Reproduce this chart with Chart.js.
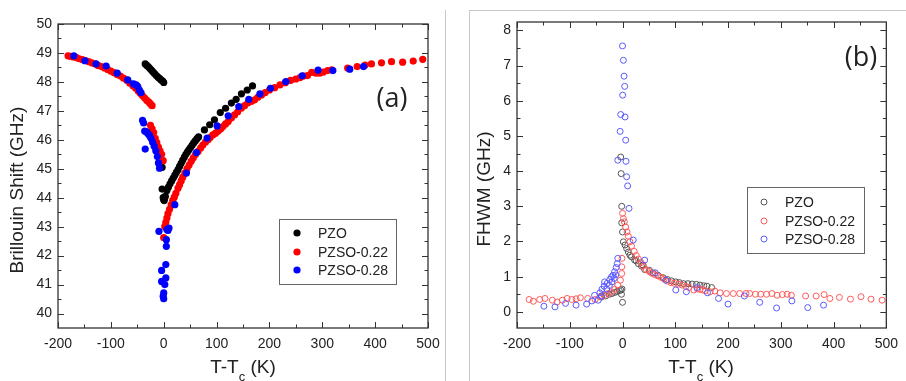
<!DOCTYPE html>
<html>
<head>
<meta charset="utf-8">
<script src="https://cdn.jsdelivr.net/npm/chart.js@4.4.1/dist/chart.umd.min.js"></script>
<style>
  html, body { margin: 0; padding: 0; background: #fff; }
  #wrap { position: relative; width: 906px; height: 381px; overflow: hidden; }
  canvas { position: absolute; top: 0; }
  #cA { left: 0; }
  #cB { left: 450px; }
  .edge { position: absolute; background: #c8c8c8; }
</style>
</head>
<body>
<div id="wrap">
  <canvas id="cA" width="450" height="381"></canvas>
  <canvas id="cB" width="456" height="381"></canvas>
  <div class="edge" style="left:445px;top:10px;width:1px;height:371px"></div>
  <div class="edge" style="left:469px;top:10px;width:437px;height:1px"></div>
  <div class="edge" style="left:469px;top:10px;width:1px;height:371px"></div>
</div>
<script>
// tick labels
const xTicks = [-200, -100, 0, 100, 200, 300, 400, 500];
const yTicksA = [40, 41, 42, 43, 44, 45, 46, 47, 48, 49, 50];
const yTicksB = [0, 1, 2, 3, 4, 5, 6, 7, 8];
const seriesNames = ["PZO", "PZSO-0.22", "PZSO-0.28"];

// (a) Brillouin shift, GHz
const aPzoT = [-35, -32, -29, -26, -23, -20, -17, -14, -11, -8, -5, -2, 0,
  -3, -3, -1, 0, 1, 2,
  3, 6, 9, 12, 15, 18, 21, 24, 27, 30, 33, 36, 39, 42, 45, 48, 51, 54, 57, 60, 63, 66,
  77, 87, 96, 107, 117, 128, 137, 147, 158, 168];
const aPzoG = [48.62, 48.57, 48.52, 48.46, 48.4, 48.34, 48.28, 48.22, 48.17, 48.12, 48.07, 48.03, 47.98,
  45.05, 44.3, 44.0, 43.93, 43.9, 44.0,
  44.05, 44.25, 44.37, 44.48, 44.58, 44.68, 44.78, 44.88, 44.97, 45.08, 45.19, 45.3, 45.4, 45.5, 45.58, 45.66, 45.74, 45.82, 45.9, 45.97, 46.04, 46.1,
  46.34, 46.52, 46.69, 46.94, 47.09, 47.27, 47.4, 47.59, 47.72, 47.86];

const aP22T = [-181, -176, -171, -165, -160, -154, -148, -142, -136, -130, -124, -118, -112, -106, -100, -94, -88, -82, -76, -70, -64, -58, -53, -48, -44, -40, -36, -32, -28, -25, -22,
  -25, -22, -19, -16, -13, -10, -7, -4, -1,
  0, 2, 4, 6, 8, 11, 14, 17, 20, 23, 27, 30, 33, 36, 40, 44, 48, 52, 56, 60, 65, 70, 74, 79, 84, 88, 93, 98, 103, 108, 112, 117, 122, 128, 134, 140, 147, 153, 159, 166, 172, 178, 185, 192,
  200, 210, 220, 230, 240, 250, 258, 265, 272, 280, 288, 295, 302, 310, 318, 348, 366, 381, 393, 412, 431, 452, 472, 490];
const aP22G = [48.9, 48.88, 48.86, 48.84, 48.8, 48.77, 48.74, 48.7, 48.66, 48.62, 48.57, 48.53, 48.48, 48.43, 48.37, 48.32, 48.26, 48.2, 48.13, 48.06, 47.95, 47.86, 47.78, 47.68, 47.6, 47.52, 47.44, 47.36, 47.3, 47.24, 47.18,
  46.5, 46.38, 46.25, 46.05, 45.9, 45.75, 45.62, 45.5, 45.28,
  42.62, 43.0, 43.15, 43.3, 43.45, 43.6, 43.75, 43.9, 44.02, 44.15, 44.33, 44.45, 44.58, 44.71, 44.85, 45.0, 45.13, 45.26, 45.38, 45.49, 45.6, 45.72, 45.82, 45.92, 46.0, 46.08, 46.17, 46.23, 46.3, 46.38, 46.46, 46.55, 46.63, 46.75, 46.86, 46.97, 47.09, 47.18, 47.27, 47.33, 47.38, 47.47, 47.55, 47.63,
  47.72, 47.8, 47.9, 47.97, 48.05, 48.1, 48.15, 48.2, 48.22, 48.33, 48.3, 48.3, 48.34, 48.39, 48.42, 48.48, 48.53, 48.58, 48.62, 48.66, 48.7, 48.68, 48.72, 48.78];

const aP28T = [-170, -149, -128, -109, -88, -68, -57, -52, -49, -46, -43,
  -40, -38, -36, -35, -33, -30, -27, -24, -21, -18, -15, -12, -10, -8,
  -9, 10, 8, 5, 5, 4, -4, -4, 4, 2, 0, -1, 0,
  6, 21, 43, 62, 82, 101, 122, 142, 161, 182, 202, 231, 262, 292, 320, 352, 378];
const aP28G = [48.9, 48.73, 48.62, 48.55, 48.3, 48.07, 47.93, 47.9, 47.84, 47.72, 47.63,
  46.67, 46.58, 46.3, 45.68, 46.28, 46.22, 46.15, 46.05, 45.92, 45.78, 45.62, 45.42, 45.2, 45.02,
  42.84, 42.95, 42.87, 42.55, 42.32, 41.69, 41.49, 41.11, 41.23, 41.0, 40.71, 40.6, 40.51,
  42.9, 43.76, 44.85, 45.56, 46.06, 46.48, 46.83, 47.15, 47.4, 47.59, 47.78, 48.01, 48.21, 48.41, 48.39, 48.44, 48.53];

// (b) FHWM, GHz
const bPzoT = [-40, -32, -25, -20, -15, -10, -6, -3, -1, -2, 0,
  -3.4, -2.6, -1.5, -1.5, 0, 1.6, 4.8, 7.8, 11, 14, 17, 23, 26, 30, 36, 39, 42, 51, 58, 67, 77, 85, 93, 101, 108, 116, 124, 132, 140, 147, 154, 160, 169];
const bPzoW = [0.42, 0.45, 0.5, 0.52, 0.55, 0.58, 0.6, 0.62, 0.65, 0.5, 0.27,
  4.4, 3.93, 3.0, 2.53, 2.27, 1.99, 1.9, 1.8, 1.7, 1.61, 1.56, 1.47, 1.45, 1.37, 1.3, 1.33, 1.2, 1.18, 1.1, 1.04, 0.97, 0.92, 0.88, 0.85, 0.83, 0.8, 0.8, 0.79, 0.78, 0.76, 0.74, 0.73, 0.69];

const bP22T = [-177, -169, -157, -147, -133, -124, -114, -105, -96, -88, -80, -66, -52, -43, -35, -28, -21, -15, -9, -4, -1.5, -1.5, -1,
  0, 1.6, 3.4, 5.9, 8.5, 11, 14, 17, 22, 26, 30, 35, 39, 45, 50, 55, 61, 67, 73, 79, 85, 92, 98, 106, 113, 120, 126, 135, 142, 147, 152, 157, 166, 175, 185, 197,
  210, 222, 234, 241, 252, 262, 273, 283, 293, 303, 312, 320, 347, 367, 382, 393, 411, 432, 452, 471, 492];
const bP22W = [0.35, 0.3, 0.35, 0.38, 0.33, 0.28, 0.33, 0.38, 0.35, 0.37, 0.4, 0.38, 0.35, 0.43, 0.47, 0.52, 0.57, 0.64, 0.76, 0.9, 1.09, 1.28, 1.52,
  2.8, 2.65, 2.56, 2.41, 2.27, 2.15, 1.99, 1.87, 1.72, 1.6, 1.5, 1.4, 1.3, 1.2, 1.15, 1.1, 1.06, 1.02, 0.98, 0.93, 0.87, 0.83, 0.81, 0.79, 0.76, 0.72, 0.69, 0.62, 0.65, 0.64, 0.62, 0.6, 0.57, 0.59, 0.54, 0.52,
  0.52, 0.52, 0.52, 0.52, 0.5, 0.5, 0.5, 0.52, 0.47, 0.49, 0.5, 0.47, 0.45, 0.45, 0.49, 0.38, 0.41, 0.36, 0.43, 0.36, 0.33];

const bP28T = [-149, -128, -108, -88, -68, -58, -53, -46, -43, -40, -39, -35, -34, -30, -29, -25, -24, -21, -20, -18, -16, -15, -13, -12, -10, -9,
  0, 1.6, 2.9, 4.1, 0.3, -3.4, 4.8, -4.5, 6, -9, 6.6, 7.8, 9.7, 12.3, 20.3,
  42, 62, 82, 101, 121, 141, 161, 182, 200, 231, 260, 292, 321, 351, 381];
const bP28W = [0.16, 0.14, 0.24, 0.19, 0.22, 0.31, 0.47, 0.33, 0.54, 0.45, 0.64, 0.73, 0.85, 0.65, 0.81, 0.75, 0.92, 0.99, 0.85, 1.04, 0.95, 1.14, 1.05, 1.26, 1.37, 1.52,
  7.56, 7.15, 6.7, 6.41, 6.16, 5.61, 5.54, 5.13, 4.88, 4.31, 4.28, 3.84, 3.58, 2.94, 2.04,
  1.47, 1.11, 0.9, 0.62, 0.57, 0.69, 0.54, 0.38, 0.22, 0.45, 0.27, 0.11, 0.31, 0.12, 0.19];

const pts = (xs, ys) => xs.map((x, i) => ({ x: x, y: ys[i] }));

Chart.defaults.font.family = "'Liberation Sans', Arial, sans-serif";
Chart.defaults.font.size = 14;
Chart.defaults.color = "#222";

function withMinor(major) {
  const out = [];
  for (let i = 0; i < major.length; i++) {
    out.push([major[i], true]);
    if (i < major.length - 1) out.push([(major[i] + major[i + 1]) / 2, false]);
  }
  return out;
}

// frame, inward ticks, legend, labels and axis titles
const decor = {
  id: "decor",
  afterDraw(chart, args, o) {
    const { ctx, chartArea: a, scales } = chart;
    const sx = scales.x, sy = scales.y;
    ctx.save();
    ctx.strokeStyle = "#333";
    ctx.lineWidth = 1.3;
    ctx.strokeRect(a.left, a.top, a.right - a.left, a.bottom - a.top);
    ctx.lineWidth = 1;
    ctx.beginPath();
    withMinor(o.xTicks).forEach(([v, major]) => {
      const px = Math.round(sx.getPixelForValue(v)) + 0.5;
      const len = major ? 6 : 3.5;
      ctx.moveTo(px, a.bottom); ctx.lineTo(px, a.bottom - len);
      ctx.moveTo(px, a.top); ctx.lineTo(px, a.top + len);
    });
    withMinor(o.yTicks).forEach(([v, major]) => {
      const py = Math.round(sy.getPixelForValue(v)) + 0.5;
      const len = major ? 6 : 3.5;
      ctx.moveTo(a.left, py); ctx.lineTo(a.left + len, py);
      ctx.moveTo(a.right, py); ctx.lineTo(a.right - len, py);
    });
    ctx.stroke();

    // legend
    const L = o.legend;
    ctx.strokeStyle = "#666";
    ctx.lineWidth = 1;
    ctx.strokeRect(L.x + 0.5, L.y + 0.5, L.w, L.h);
    ctx.font = "14px 'Liberation Sans', Arial, sans-serif";
    ctx.textBaseline = "middle";
    ctx.textAlign = "left";
    chart.data.datasets.forEach((ds, i) => {
      const cy = L.y + L.rows[i];
      ctx.beginPath();
      ctx.arc(L.markerX, cy, ds.pointRadius, 0, Math.PI * 2);
      if (o.filled) { ctx.fillStyle = ds.backgroundColor; ctx.fill(); }
      else { ctx.strokeStyle = ds.borderColor; ctx.lineWidth = 1; ctx.stroke(); }
      ctx.fillStyle = "#222";
      ctx.fillText(ds.label, L.textX, cy + 1);
    });

    // panel tag
    ctx.font = "27px 'Open Sans', sans-serif";
    ctx.textAlign = "center";
    ctx.fillStyle = "#222";
    ctx.fillText(o.tag.text, o.tag.x, o.tag.y);

    // y title
    ctx.font = "19px 'Liberation Sans', Arial, sans-serif";
    ctx.save();
    ctx.translate(o.yTitle.x, o.yTitle.y);
    ctx.rotate(-Math.PI / 2);
    ctx.fillText(o.yTitle.text, 0, 0);
    ctx.restore();

    // x title with subscript
    const big = "19px 'Liberation Sans', Arial, sans-serif";
    const small = "13px 'Liberation Sans', Arial, sans-serif";
    ctx.font = big;
    const w1 = ctx.measureText("T-T").width, w3 = ctx.measureText(" (K)").width;
    ctx.font = small;
    const w2 = ctx.measureText("c").width;
    let x0 = o.xTitle.x - (w1 + w2 + w3) / 2;
    ctx.textAlign = "left";
    ctx.font = big;
    ctx.fillText("T-T", x0, o.xTitle.y);
    ctx.font = small;
    ctx.fillText("c", x0 + w1, o.xTitle.y + 9);
    ctx.font = big;
    ctx.fillText(" (K)", x0 + w1 + w2, o.xTitle.y);
    ctx.restore();
  }
};

function makeChart(id, datasets, cfg) {
  return new Chart(document.getElementById(id), {
    type: "scatter",
    data: { datasets: datasets },
    options: {
      responsive: false,
      animation: false,
      layout: { padding: cfg.padding },
      plugins: { legend: { display: false }, tooltip: { enabled: false }, decor: cfg.decor },
      scales: {
        x: {
          type: "linear", min: -200, max: 500,
          afterBuildTicks: s => { s.ticks = xTicks.map(v => ({ value: v })); },
          afterFit: s => { s.height = 53; },
          grid: { display: false, drawTicks: false },
          border: { display: false },
          ticks: { padding: 8, maxRotation: 0, minRotation: 0, autoSkip: false }
        },
        y: {
          type: "linear", min: cfg.yMin, max: cfg.yMax,
          afterBuildTicks: s => { s.ticks = cfg.yTicks.map(v => ({ value: v })); },
          afterFit: s => { s.width = cfg.yWidth; },
          grid: { display: false, drawTicks: false },
          border: { display: false },
          ticks: { padding: 6, autoSkip: false }
        }
      }
    },
    plugins: [decor]
  });
}

// later series are drawn on top, as in the original
const filled = (label, data, color, order) => ({
  label: label, data: data, pointRadius: 3.6, pointBorderWidth: 0, order: order,
  backgroundColor: color, borderColor: color
});
const open = (label, data, color, order) => ({
  label: label, data: data, pointRadius: 3, pointBorderWidth: 1, order: order,
  backgroundColor: "rgba(0,0,0,0)", borderColor: color
});

makeChart("cA", [
  filled(seriesNames[0], pts(aPzoT, aPzoG), "#000000", 2),
  filled(seriesNames[1], pts(aP22T, aP22G), "#ff0000", 1),
  filled(seriesNames[2], pts(aP28T, aP28G), "#0000ff", 0)
], {
  padding: { left: 0, right: 22, top: 24, bottom: 0 },
  yMin: 39.5, yMax: 50, yTicks: yTicksA, yWidth: 58,
  decor: {
    xTicks: xTicks, yTicks: yTicksA, filled: true,
    legend: { x: 279, y: 219, w: 117, h: 65, rows: [14, 33, 51], markerX: 297, textX: 318 },
    tag: { text: "(a)", x: 392, y: 99 },
    yTitle: { text: "Brillouin Shift (GHz)", x: 18, y: 190 },
    xTitle: { x: 243, y: 368 }
  }
});

makeChart("cB", [
  open(seriesNames[0], pts(bPzoT, bPzoW), "#555555", 2),
  open(seriesNames[1], pts(bP22T, bP22W), "#ff5a5a", 1),
  open(seriesNames[2], pts(bP28T, bP28W), "#5a5aff", 0)
], {
  padding: { left: 0, right: 13, top: 22, bottom: 0 },
  yMin: -0.46, yMax: 8.24, yTicks: yTicksB, yWidth: 67,
  decor: {
    xTicks: xTicks, yTicks: yTicksB, filled: false,
    legend: { x: 297, y: 187, w: 117, h: 66, rows: [15, 34, 52], markerX: 314, textX: 335 },
    tag: { text: "(b)", x: 411, y: 58 },
    yTitle: { text: "FHWM (GHz)", x: 35, y: 189 },
    xTitle: { x: 251, y: 368 }
  }
});
</script>
</body>
</html>
